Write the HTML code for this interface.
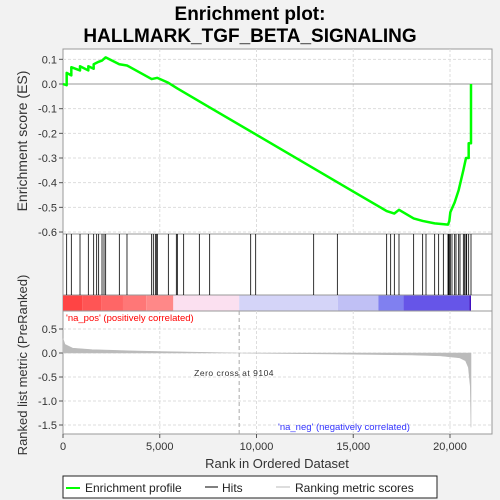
<!DOCTYPE html>
<html><head><meta charset="utf-8">
<style>
body{margin:0;background:#f2f2f2;font-family:"Liberation Sans","DejaVu Sans",sans-serif;}
svg{display:block}
</style></head>
<body>
<svg id="c" width="500" height="500" viewBox="0 0 500 500"></svg>
<script>
// data
const totalGenes = 21100;
const hitRanks = [190,430,879,1309,1585,1740,1843,2016,2119,2205,2911,3307,4582,4668,4772,4841,4875,5444,5857,5909,6236,7046,7580,9700,9958,12955,14178,16727,16934,17123,17364,18122,18587,18760,19208,19414,19656,19897,19931,19966,20017,20103,20241,20310,20448,20517,20689,20758,20827,20862,20965,21085];
const esRanks = [0,190,190,430,430,879,879,1309,1309,1585,1585,1843,2016,2205,2911,3307,4582,4875,5444,5909,7580,10000,15000,16727,17123,17364,18122,18587,19208,19897,19966,20017,20241,20448,20689,20827,20965,20965,21085,21085];
const esValues = [0,-0.005,0.045,0.035,0.068,0.055,0.072,0.055,0.072,0.062,0.08,0.09,0.095,0.108,0.08,0.075,0.02,0.025,0.005,-0.018,-0.095,-0.206,-0.436,-0.515,-0.525,-0.51,-0.545,-0.555,-0.565,-0.57,-0.555,-0.52,-0.48,-0.43,-0.35,-0.3,-0.3,-0.24,-0.24,0];
const metricRanks = [0,100,500,1500,3000,5000,9104,14000,18000,19500,20500,20800,20950,21050,21085];
const metricValues = [0.3,0.18,0.1,0.07,0.05,0.03,0,-0.02,-0.04,-0.06,-0.1,-0.16,-0.3,-0.7,-1.55];
const esTicks = [0.1,0.0,-0.1,-0.2,-0.3,-0.4,-0.5,-0.6];
const esTickLabels = ["0.1","0.0","-0.1","-0.2","-0.3","-0.4","-0.5","-0.6"];
const metricTicks = [0.5,0.0,-0.5,-1.0,-1.5];
const metricTickLabels = ["0.5","0.0","-0.5","-1.0","-1.5"];
const xTicks = [0,5000,10000,15000,20000];
const xTickLabels = ["0","5,000","10,000","15,000","20,000"];
const bandEnds = [1000,2000,3100,4300,5700,9104,14200,16300,17600,21000,21085];
const bandColors = ["#f44","#f55","#f66","#f77","#f88","#fbe0f0","#d4d4f8","#c0c0f5","#8080f0","#6655e8","#4010c0"];

const L=63,R=492;
const X=r=>L+r*0.01935;
const YE=v=>84-v*246.7;
const YM=v=>353-v*48;
const NS="http://www.w3.org/2000/svg";
const svg=document.getElementById('c');
function el(t,a,name,parent){const e=document.createElementNS(NS,t);for(const k in a)e.setAttribute(k,a[k]);


(parent||svg).appendChild(e);return e;}
function tx(x,y,s,size,name,extra){const e=el('text',Object.assign({x:x,y:y,'font-size':size,fill:'#333'},extra||{}),name);e.textContent=s;return e;}

// title
tx(250,20,"Enrichment plot:",19,'title-line1',{'text-anchor':'middle','font-weight':'bold',fill:'#000'});
tx(250,42,"HALLMARK_TGF_BETA_SIGNALING",19,'title-line2',{'text-anchor':'middle','font-weight':'bold',fill:'#000'});

// panels
el('rect',{x:L,y:49,width:R-L,height:185,fill:'#fff',stroke:'#999'},'es-panel');
el('rect',{x:L,y:234,width:R-L,height:61,fill:'#fff',stroke:'#999'},'hits-panel');
el('rect',{x:L,y:295,width:R-L,height:16,fill:'#fff',stroke:'#999'},'color-bar-panel');
el('rect',{x:L,y:311,width:R-L,height:123,fill:'#fff',stroke:'#999'},'metric-panel');

// grid
xTicks.forEach((t,i)=>{ if(i>0){
 el('line',{x1:X(t),x2:X(t),y1:49,y2:234,stroke:'#ddd','stroke-dasharray':'3,2'},'es-grid-x');
 el('line',{x1:X(t),x2:X(t),y1:311,y2:434,stroke:'#ddd','stroke-dasharray':'3,2'},'metric-grid-x');}
 el('line',{x1:X(t),x2:X(t),y1:434,y2:438,stroke:'#555'},'x-tick');
 tx(X(t),450,xTickLabels[i],11,'x-tick-label',{'text-anchor':'middle'});
});
esTicks.forEach((t,i)=>{
 el('line',{x1:L,x2:R,y1:YE(t),y2:YE(t),stroke:t===0?'#999':'#ddd','stroke-dasharray':t===0?'':'3,2'},'es-grid-y');
 el('line',{x1:L-4,x2:L,y1:YE(t),y2:YE(t),stroke:'#555'},'es-tick');
 tx(L-6,YE(t)+4,esTickLabels[i],11,'es-tick-label',{'text-anchor':'end'});
});
metricTicks.forEach((t,i)=>{
 el('line',{x1:L,x2:R,y1:YM(t),y2:YM(t),stroke:'#ddd','stroke-dasharray':'3,2'},'metric-grid-y');
 el('line',{x1:L-4,x2:L,y1:YM(t),y2:YM(t),stroke:'#555'},'metric-tick');
 tx(L-6,YM(t)+4,metricTickLabels[i],11,'metric-tick-label',{'text-anchor':'end'});
});

// color bands
let prev=0;
bandEnds.forEach((e,i)=>{el('rect',{x:X(prev),y:295.5,width:X(e)-X(prev),height:15,fill:bandColors[i]},'color-band');prev=e;});

// hits
hitRanks.forEach(r=>el('line',{x1:X(r),x2:X(r),y1:234,y2:295,stroke:'#000','stroke-width':0.8},'hit-line'));

// metric area
let d='M'+X(0)+','+YM(0);
metricRanks.forEach((r,i)=>d+=' L'+X(r)+','+YM(metricValues[i]));
d+=' L'+X(metricRanks[metricRanks.length-1])+','+YM(0)+' Z';
el('path',{d:d,fill:'#bbb',stroke:'#bbb','stroke-width':0.6},'metric-area');

// zero cross
el('line',{x1:X(9104),x2:X(9104),y1:311,y2:434,stroke:'#aaa','stroke-dasharray':'4,3'},'zero-cross-line');
tx(X(9104)-45,376,"Zero cross at 9104",8.5,'zero-cross-label',{fill:'#333','letter-spacing':'0.5'});
tx(66,321,"'na_pos' (positively correlated)",9.5,'na-pos-label',{fill:'#f00'});
tx(278,430,"'na_neg' (negatively correlated)",9.5,'na-neg-label',{fill:'#33f'});

// ES line
let p='';
esRanks.forEach((r,i)=>p+=(i?' L':'M')+X(r)+','+YE(esValues[i]));
el('path',{d:p,fill:'none',stroke:'#0f0','stroke-width':2.5,'stroke-linejoin':'round'},'es-line');

// axis titles
tx(0,0,"Enrichment score (ES)",14,'es-axis-title',{transform:'translate(27,141) rotate(-90)','text-anchor':'middle'});
tx(0,0,"Ranked list metric (PreRanked)",13,'metric-axis-title',{transform:'translate(27,365) rotate(-90)','text-anchor':'middle'});
tx(277,468,"Rank in Ordered Dataset",13,'x-axis-title',{'text-anchor':'middle'});

// legend
el('rect',{x:63,y:476,width:374,height:22,fill:'#fff',stroke:'#222'},'legend-box');
el('line',{x1:66,x2:80,y1:488,y2:488,stroke:'#0f0','stroke-width':2},'legend-es-swatch');
tx(85,492,"Enrichment profile",12,'legend-es-label',{fill:'#222'});
el('line',{x1:205,x2:218,y1:487,y2:487,stroke:'#000','stroke-width':1},'legend-hits-swatch');
tx(222,492,"Hits",12,'legend-hits-label',{fill:'#222'});
el('line',{x1:276,x2:290,y1:487,y2:487,stroke:'#bbb','stroke-width':1},'legend-metric-swatch');
tx(295,492,"Ranking metric scores",12,'legend-metric-label',{fill:'#222'});
</script>
</body></html>
